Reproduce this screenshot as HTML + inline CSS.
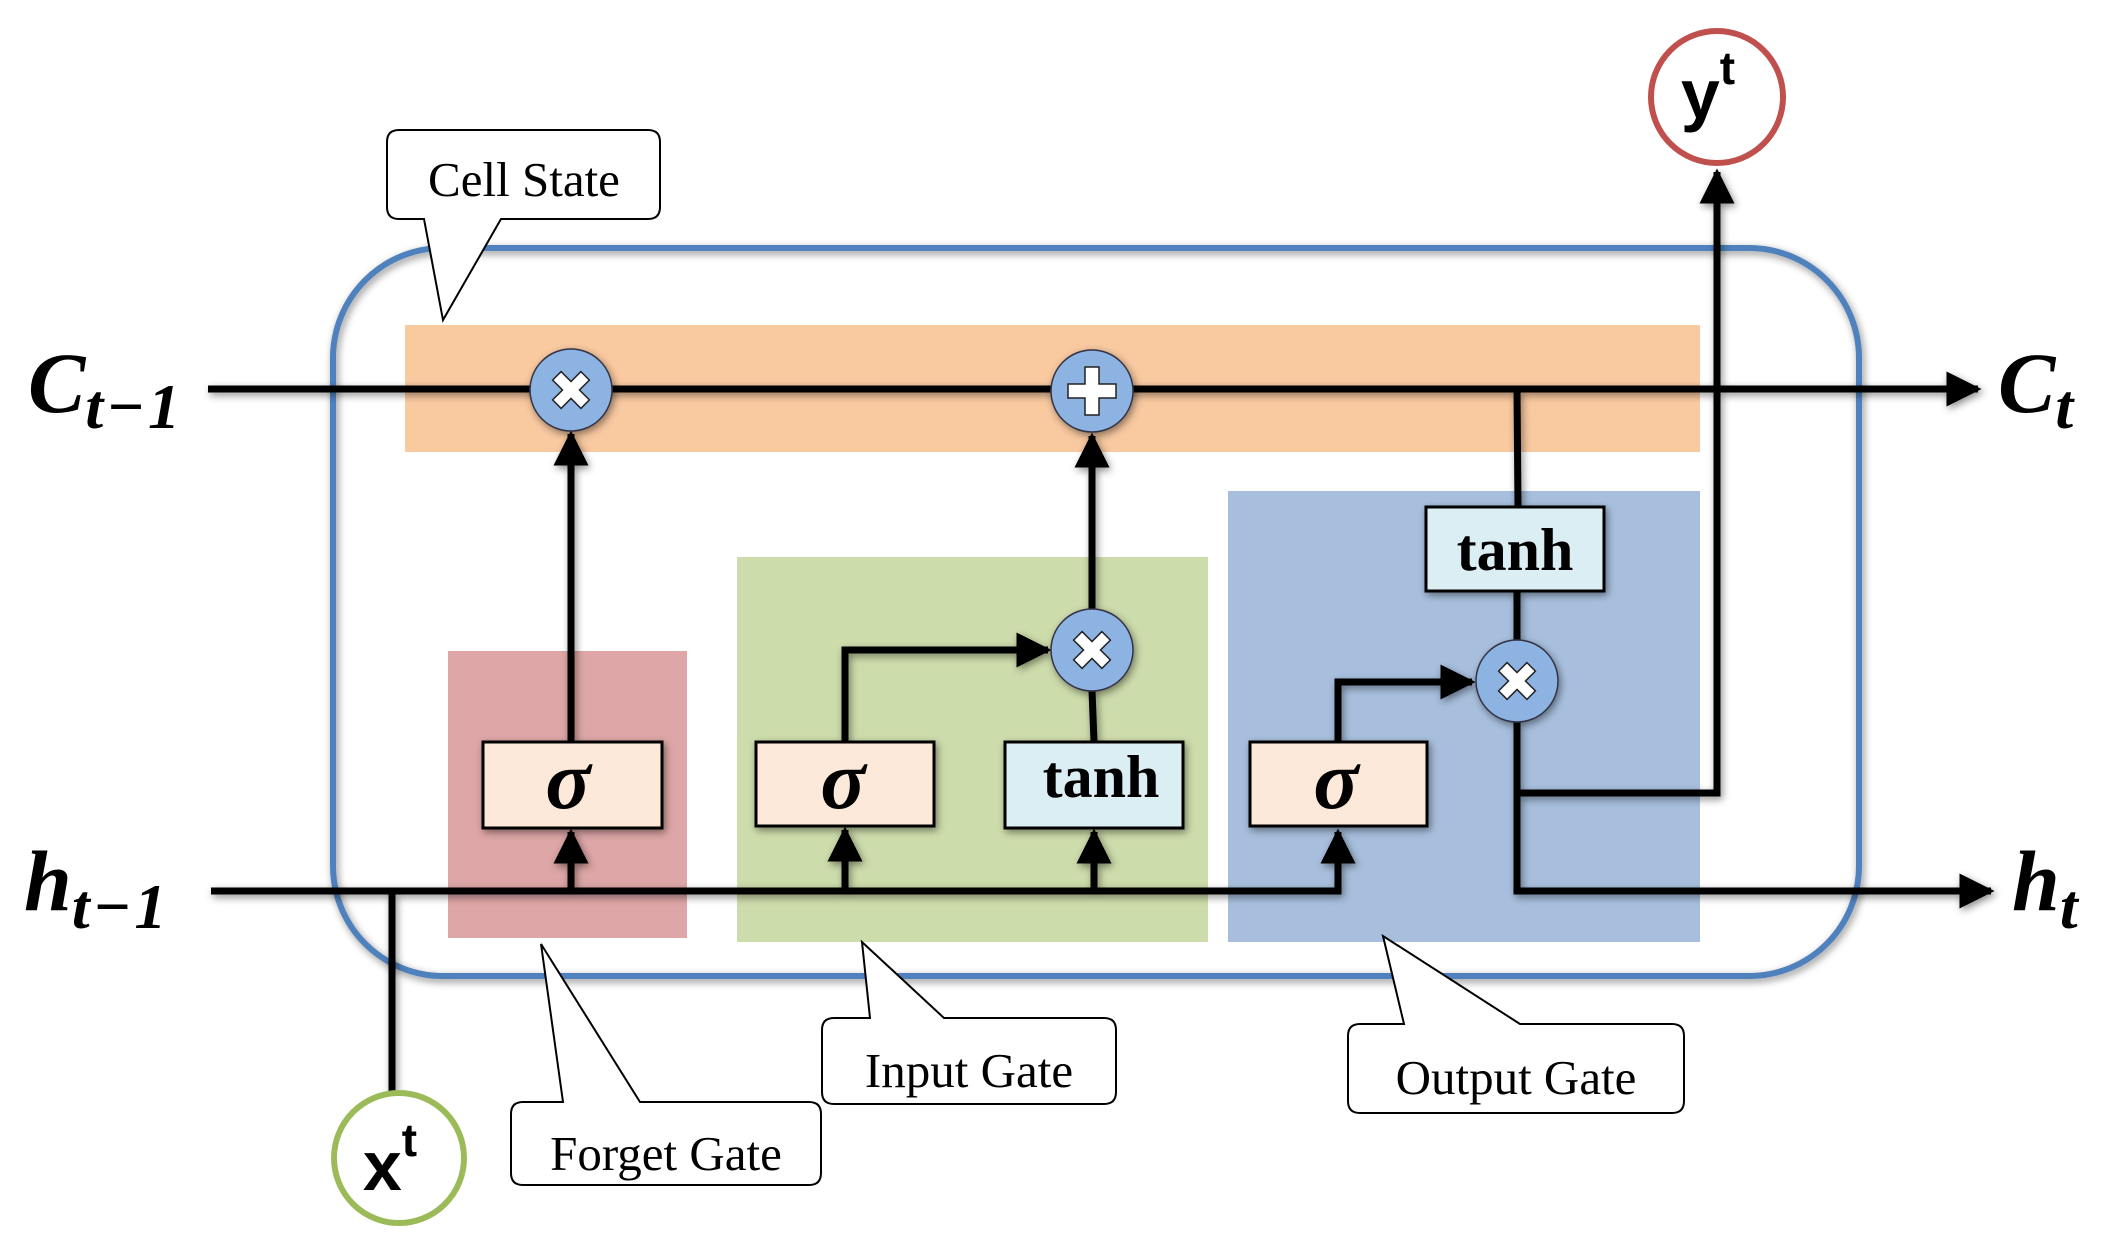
<!DOCTYPE html>
<html><head><meta charset="utf-8"><style>
html,body{margin:0;padding:0;background:#fff;width:2105px;height:1253px;overflow:hidden}
svg{display:block}
.ser{font-family:"Liberation Serif",serif}
.san{font-family:"Liberation Sans",sans-serif}
</style></head><body>
<svg width="2105" height="1253" viewBox="0 0 2105 1253" xmlns="http://www.w3.org/2000/svg">
<defs>
<filter id="sh" x="-10%" y="-10%" width="120%" height="120%"><feDropShadow dx="2" dy="3" stdDeviation="4" flood-color="#000" flood-opacity="0.45"/></filter>
<marker id="ar" viewBox="0 0 10 10" refX="9" refY="5" markerWidth="5" markerHeight="5" orient="auto"><path d="M0,0 L10,5 L0,10 z" fill="#000"/></marker>
</defs>
<rect x="333" y="248" width="1526" height="728" rx="110" fill="none" stroke="#4f81bd" stroke-width="6" filter="url(#sh)"/>
<rect x="405" y="325" width="1295" height="127" fill="#f9c9a0"/>
<rect x="448" y="651" width="239" height="287" fill="#dea6a6"/>
<rect x="737" y="557" width="471" height="385" fill="#cddcab"/>
<rect x="1228" y="491" width="472" height="451" fill="#a7bfdd"/>

<g stroke="#000" stroke-width="7" fill="none" filter="url(#sh)">
<line x1="208" y1="389" x2="1978" y2="389" marker-end="url(#ar)"/>
<polyline points="211,891 1338,891 1338,832" marker-end="url(#ar)"/>
<line x1="392" y1="891" x2="392" y2="1092"/>
<line x1="571" y1="891" x2="571" y2="832" marker-end="url(#ar)"/>
<line x1="845" y1="891" x2="845" y2="830" marker-end="url(#ar)"/>
<line x1="1094" y1="891" x2="1094" y2="832" marker-end="url(#ar)"/>
<line x1="571" y1="742" x2="571" y2="434" marker-end="url(#ar)"/>
<polyline points="845,742 845,650 1048,650" marker-end="url(#ar)"/>
<line x1="1094" y1="742" x2="1092" y2="690"/>
<line x1="1092" y1="609" x2="1092" y2="436" marker-end="url(#ar)"/>
<polyline points="1338,742 1338,682 1472,682" marker-end="url(#ar)"/>
<line x1="1517" y1="389" x2="1518" y2="507"/>
<line x1="1517" y1="591" x2="1517" y2="640"/>
<polyline points="1517,722 1517,891 1991,891" marker-end="url(#ar)"/>
<polyline points="1517,793 1717,793 1717,172" marker-end="url(#ar)"/>
</g>

<g stroke="#000" stroke-width="3" filter="url(#sh)">
<rect x="483" y="742" width="179" height="86" fill="#fde9d9"/>
<rect x="756" y="742" width="178" height="84" fill="#fde9d9"/>
<rect x="1005" y="742" width="178" height="86" fill="#dbeef4"/>
<rect x="1250" y="742" width="177" height="84" fill="#fde9d9"/>
<rect x="1426" y="507" width="178" height="84" fill="#dbeef4"/>
</g>
<g class="ser" font-weight="bold" text-anchor="middle">
<text x="568" y="808" font-size="84" font-style="italic">σ</text>
<text x="843" y="808" font-size="84" font-style="italic">σ</text>
<text x="1336" y="808" font-size="84" font-style="italic">σ</text>
<text x="1101" y="797" font-size="60">tanh</text>
<text x="1515" y="570" font-size="60">tanh</text>
</g>

<g stroke="#334" stroke-width="1.5" fill="#8db3e2" filter="url(#sh)">
<circle cx="571" cy="390" r="41"/>
<circle cx="1092" cy="391" r="41"/>
<circle cx="1092" cy="650" r="41"/>
<circle cx="1517" cy="681" r="41"/>
</g>
<g fill="#fff" stroke="#222" stroke-width="1.5">
<g transform="translate(571,390) rotate(45)"><path d="M-6,-20 H6 V-6 H20 V6 H6 V20 H-6 V6 H-20 V-6 H-6 Z"/></g>
<g transform="translate(1092,650) rotate(45)"><path d="M-6,-20 H6 V-6 H20 V6 H6 V20 H-6 V6 H-20 V-6 H-6 Z"/></g>
<g transform="translate(1517,681) rotate(45)"><path d="M-6,-20 H6 V-6 H20 V6 H6 V20 H-6 V6 H-20 V-6 H-6 Z"/></g>
<g transform="translate(1092,391)"><path d="M-7,-24 H7 V-7 H24 V7 H7 V24 H-7 V7 H-24 V-7 H-7 Z"/></g>
</g>

<circle cx="399" cy="1158" r="65" fill="#fff" stroke="#9bbb59" stroke-width="6"/>
<text x="390" y="1190" class="san" font-weight="bold" font-size="70" text-anchor="middle">x<tspan font-size="46" dy="-34">t</tspan></text>
<circle cx="1717" cy="97" r="66" fill="#fff" stroke="#c0504d" stroke-width="6"/>
<text x="1708" y="118" class="san" font-weight="bold" font-size="70" text-anchor="middle">y<tspan font-size="46" dy="-34">t</tspan></text>

<g class="ser" font-weight="bold" font-style="italic">
<text x="28" y="412" font-size="86">C<tspan font-size="64" dy="16" letter-spacing="3">t−1</tspan></text>
<text x="24" y="910" font-size="86">h<tspan font-size="64" dy="18" letter-spacing="3">t−1</tspan></text>
<text x="1998" y="412" font-size="86">C<tspan font-size="64" dy="16">t</tspan></text>
<text x="2012" y="910" font-size="86">h<tspan font-size="64" dy="18">t</tspan></text>
</g>

<g fill="#fff" stroke="#000" stroke-width="2">
<path d="M399,130 H648 Q660,130 660,142 V207 Q660,219 648,219 H501 L443,320 L424,219 H399 Q387,219 387,207 V142 Q387,130 399,130 Z"/>
<path d="M523,1102 H563 L541,944 L640,1102 H809 Q821,1102 821,1114 V1173 Q821,1185 809,1185 H523 Q511,1185 511,1173 V1114 Q511,1102 523,1102 Z"/>
<path d="M834,1018 H870 L862,942 L944,1018 H1104 Q1116,1018 1116,1030 V1092 Q1116,1104 1104,1104 H834 Q822,1104 822,1092 V1030 Q822,1018 834,1018 Z"/>
<path d="M1360,1024 H1404 L1383,936 L1520,1024 H1672 Q1684,1024 1684,1036 V1101 Q1684,1113 1672,1113 H1360 Q1348,1113 1348,1101 V1036 Q1348,1024 1360,1024 Z"/>
</g>
<g class="ser" font-size="49" text-anchor="middle">
<text x="524" y="196">Cell State</text>
<text x="666" y="1170">Forget Gate</text>
<text x="969" y="1087">Input Gate</text>
<text x="1516" y="1094">Output Gate</text>
</g>
</svg>
</body></html>
